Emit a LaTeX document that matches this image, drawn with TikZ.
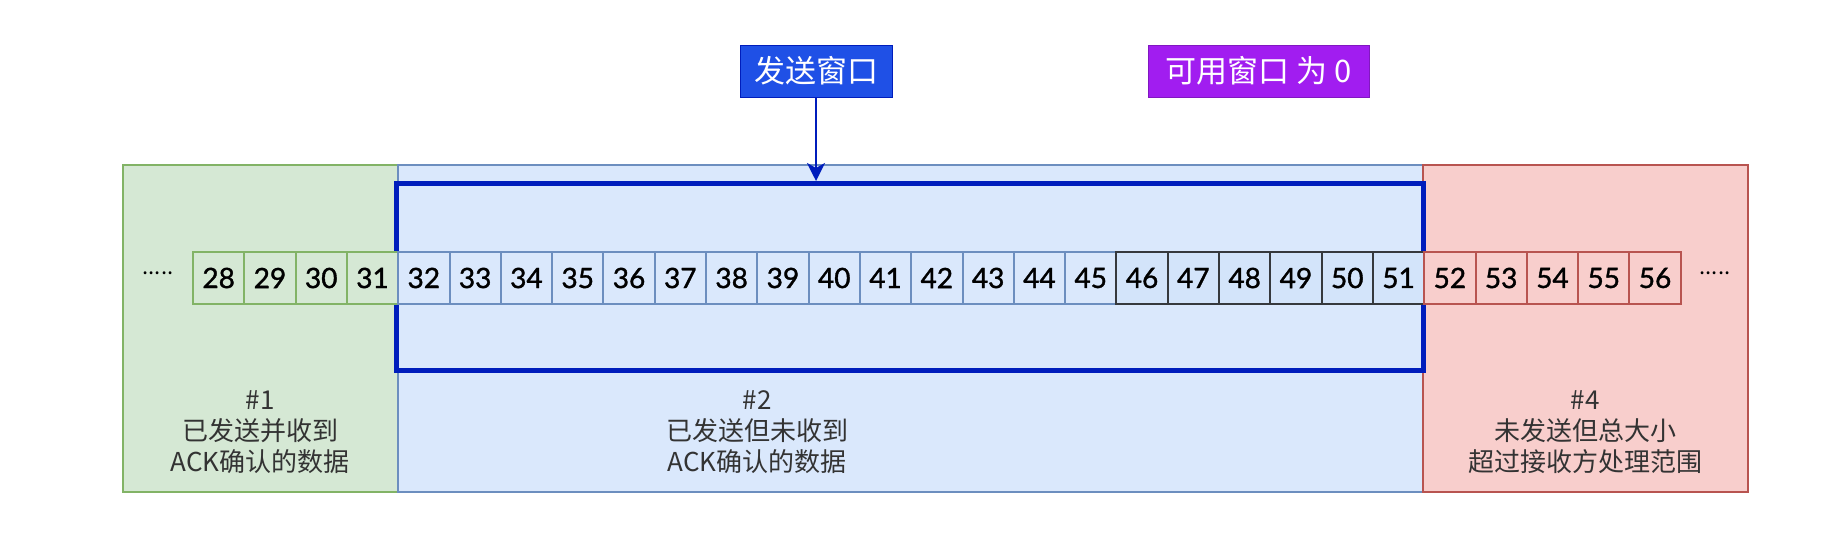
\documentclass[tikz,border=0pt]{standalone}
\usepackage{fontspec}
\setmainfont{Noto Sans CJK SC}
\newfontfamily\numfont{Lato}[FakeBold=1.3]
\usetikzlibrary{arrows.meta}
\definecolor{gfill}{HTML}{D5E8D4}\definecolor{gline}{HTML}{82B366}
\definecolor{bfill}{HTML}{DAE8FC}\definecolor{bline}{HTML}{6C8EBF}
\definecolor{rfill}{HTML}{F8CECC}\definecolor{rline}{HTML}{B85450}
\definecolor{kfill}{HTML}{D3E4FA}\definecolor{kline}{HTML}{36393D}
\definecolor{winc}{HTML}{001DBC}
\definecolor{sendc}{HTML}{1F50E6}
\definecolor{purp}{HTML}{A11DF0}
\definecolor{txt}{HTML}{333333}
\tikzset{
  region/.style={line width=2.2pt},
  cellbox/.style={line width=2pt, minimum width=51.3pt, minimum height=52pt, inner sep=0pt,
    font=\numfont\fontsize{28}{30}\selectfont, text=black, anchor=north west},
  gcell/.style={cellbox, draw=gline, fill=gfill},
  bcell/.style={cellbox, draw=bline, fill=bfill},
  kcell/.style={cellbox, draw=kline, fill=kfill},
  rcell/.style={cellbox, draw=rline, fill=rfill},
  lbl/.style={align=center, text=txt, font=\fontsize{26}{31}\selectfont},
  toplbl/.style={text=white, font=\fontsize{31}{33}\selectfont, minimum height=52pt, inner xsep=10pt, line width=1pt},
  dots/.style={font=\fontsize{22}{24}\selectfont, text=black}
}
\begin{document}
\begin{tikzpicture}[x=1pt,y=-1pt]
\useasboundingbox (0,0) rectangle (1847,550);
% regions
\draw[region, draw=gline, fill=gfill] (123,165) rectangle (398,492);
\draw[region, draw=bline, fill=bfill] (398,165) rectangle (1423,492);
\draw[region, draw=rline, fill=rfill] (1423,165) rectangle (1748,492);
% window frame
\draw[line width=5pt, draw=winc] (396,183) rectangle (1423,370);
\node[coordinate] (wintop) at (816,181) {};
% cells
\foreach \i in {28,...,31}{\node[gcell] (c\i) at ({192+(\i-28)*51.3},251) {\i};}
\foreach \i in {32,...,45}{\node[bcell] (c\i) at ({192+(\i-28)*51.3},251) {\i};}
\foreach \i in {46,...,51}{\node[kcell] (c\i) at ({192+(\i-28)*51.3},251) {\i};}
\foreach \i in {52,...,56}{\node[rcell] (c\i) at ({192+(\i-28)*51.3},251) {\i};}
% dots
\node[dots] (dl) at (158,273) {.....};
\node[dots] (dr) at (1715,273) {.....};
% labels
\node[lbl] (l1) at (260,432) {\#1\\已发送并收到\\ACK确认的数据};
\node[lbl] (l2) at (757,432) {\#2\\已发送但未收到\\ACK确认的数据};
\node[lbl] (l4) at (1585,432) {\#4\\未发送但总大小\\超过接收方处理范围};
% top labels
\node[toplbl, fill=sendc, draw=winc, minimum width=152pt] (sw) at (816,71) {发送窗口};
\node[toplbl, fill=purp, draw=purp!80!black, minimum width=221pt] (aw) at (1258.5,71) {可用窗口 为 0};
\draw[line width=2.5pt, draw=winc, -{Stealth[length=18pt,width=18pt,inset=5pt]}] (sw.south) -- (wintop);
\end{tikzpicture}
\end{document}
